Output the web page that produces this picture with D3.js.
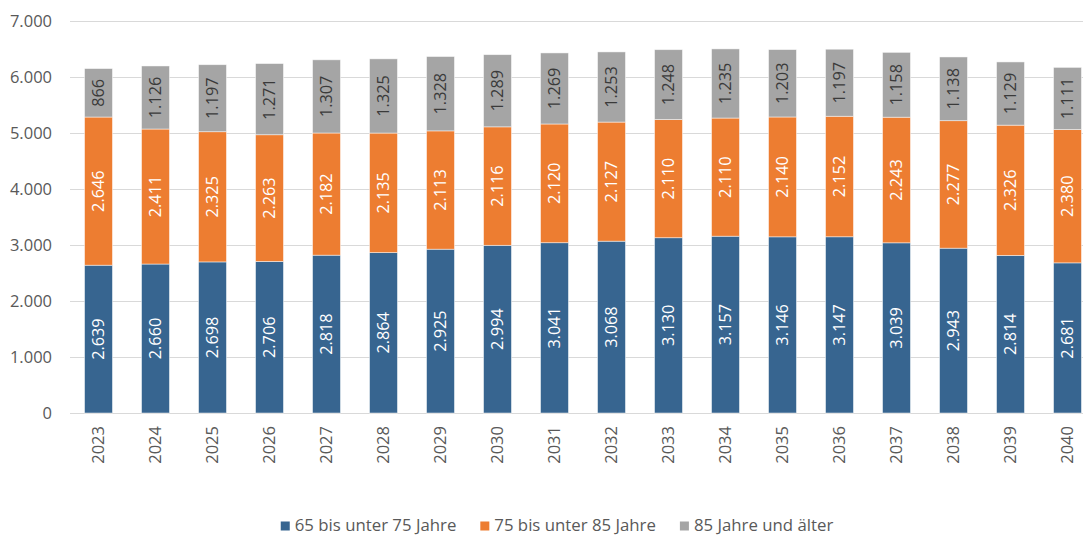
<!DOCTYPE html>
<html>
<head>
<meta charset="utf-8">
<script src="https://cdn.jsdelivr.net/npm/d3@7"></script>
<style>
  body { margin: 0; background: #fff; }
  svg { display: block; font-family: "Open Sans", "Noto Sans", sans-serif; }
</style>
</head>
<body>
<svg id="chart" width="1083" height="535"></svg>
<script>
// Bevölkerung ab 65 Jahren nach Altersgruppen (in Tausend)
const years = ["2023","2024","2025","2026","2027","2028","2029","2030","2031","2032","2033","2034","2035","2036","2037","2038","2039","2040"];
const age65to75 = [2639,2660,2698,2706,2818,2864,2925,2994,3041,3068,3130,3157,3146,3147,3039,2943,2814,2681];
const age75to85 = [2646,2411,2325,2263,2182,2135,2113,2116,2120,2127,2110,2110,2140,2152,2243,2277,2326,2380];
const age85plus = [866,1126,1197,1271,1307,1325,1328,1289,1269,1253,1248,1235,1203,1197,1158,1138,1129,1111];
const seriesNames = ["65 bis unter 75 Jahre", "75 bis unter 85 Jahre", "85 Jahre und älter"];
const yTicks = [0,1000,2000,3000,4000,5000,6000,7000];

const colors = ["#376590", "#ED7D31", "#A5A5A5"];
const labelColors = ["#ffffff", "#ffffff", "#3a3a3a"];

const fmt = d3.formatLocale({decimal: ",", thousands: ".", grouping: [3], currency: ["", "€"]}).format(",d");

const svg = d3.select("#chart");
const plotLeft = 70, plotRight = 1096, plotTop = 21, plotBottom = 413;

const x = d3.scaleBand().domain(years).range([plotLeft, plotRight]).paddingInner(0.51).paddingOuter(0.255);
const y = d3.scaleLinear().domain([0, 7000]).range([plotBottom, plotTop]);

const rows = years.map((yr, i) => ({year: yr, a: age65to75[i], b: age75to85[i], c: age85plus[i]}));
const keys = ["a", "b", "c"];
const stacked = d3.stack().keys(keys)(rows);

// gridlines
svg.append("g").selectAll("line").data(yTicks).join("line")
  .attr("x1", plotLeft).attr("x2", 1083)
  .attr("y1", d => Math.round(y(d)) + 0.5).attr("y2", d => Math.round(y(d)) + 0.5)
  .attr("stroke", "#d9d9d9").attr("stroke-width", 1);

// y axis labels
const yAxis = svg.append("g").attr("transform", `translate(${plotLeft - 18},0)`)
  .call(d3.axisLeft(y).tickValues(yTicks).tickFormat(fmt).tickSize(0));
yAxis.select(".domain").remove();
yAxis.selectAll("text").attr("fill", "#595959").attr("font-size", 16.5)
  .attr("font-family", "'Open Sans', 'Noto Sans', sans-serif").attr("x", 0);

// bars
const layers = svg.append("g").selectAll("g").data(stacked).join("g")
  .attr("fill", (d, i) => colors[i]);
layers.selectAll("rect").data(d => d).join("rect")
  .attr("x", d => x(d.data.year))
  .attr("width", x.bandwidth())
  .attr("y", d => y(d[1]))
  .attr("height", d => y(d[0]) - y(d[1]))
  .attr("stroke", "#ffffff").attr("stroke-opacity", 0.6).attr("stroke-width", 0.8);

// value labels inside segments
stacked.forEach((layer, li) => {
  svg.append("g").selectAll("text").data(layer).join("text")
    .attr("transform", d => `translate(${x(d.data.year) + x.bandwidth() / 2},${(y(d[0]) + y(d[1])) / 2}) rotate(-90)`)
    .attr("text-anchor", "middle").attr("dy", "0.36em")
    .attr("font-size", 16.3)
    .attr("fill", labelColors[li])
    .text(d => fmt(d[1] - d[0]));
});

// x axis labels (rotated years)
svg.append("g").selectAll("text").data(years).join("text")
  .attr("transform", d => `translate(${x(d) + x.bandwidth() / 2},${plotBottom + 13}) rotate(-90)`)
  .attr("text-anchor", "end").attr("dy", "0.36em")
  .attr("font-size", 16.5).attr("fill", "#595959")
  .text(d => d);

// legend: items laid out left to right, centred under the plot
const legendCenter = 557, swatch = 9, swatchGap = 5, itemGap = 24;
const legend = svg.append("g").attr("transform", "translate(0,531)");
const items = legend.selectAll("g").data(seriesNames).join("g");
items.append("rect").attr("y", -9.5).attr("width", swatch).attr("height", swatch)
  .attr("fill", (d, i) => colors[i]);
items.append("text").attr("x", swatch + swatchGap).attr("font-size", 16.8).attr("fill", "#595959")
  .text(d => d);
const widths = items.nodes().map(n => swatch + swatchGap + n.querySelector("text").getComputedTextLength());
const total = d3.sum(widths) + itemGap * (widths.length - 1);
let cursor = legendCenter - total / 2;
items.attr("transform", (d, i) => {
  const pos = cursor;
  cursor += widths[i] + itemGap;
  return `translate(${pos},0)`;
});
</script>
</body>
</html>
